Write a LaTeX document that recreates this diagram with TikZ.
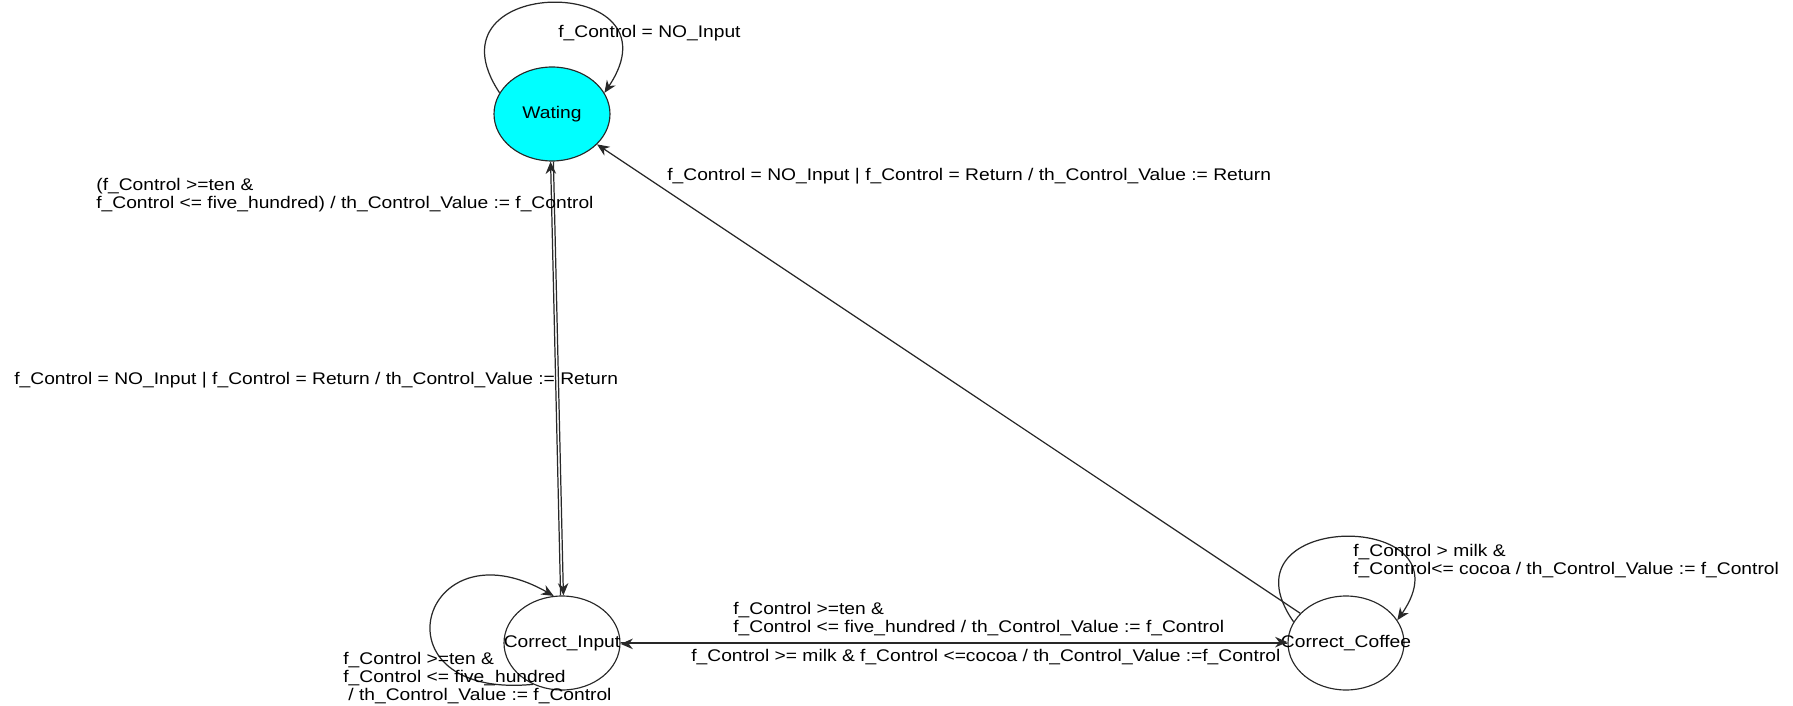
\documentclass[tikz,border=0pt]{standalone}
\usepackage{fontspec}
\setmainfont{Liberation Sans}[FakeStretch=1.14]
\usetikzlibrary{arrows.meta,shapes.geometric}
\definecolor{stfill}{RGB}{0,255,255}
\definecolor{lncol}{RGB}{40,40,40}
\begin{document}
\begin{tikzpicture}[x=0.02cm,y=-0.02cm,
  state/.style={ellipse,draw=lncol,line width=0.65pt,minimum width=2.32cm,minimum height=1.88cm,inner sep=0pt},
  lbl/.style={font=\fontsize{9.6}{10.4}\selectfont,inner sep=0pt,anchor=west,align=left},
  stxt/.style={font=\fontsize{9.6}{10.4}\selectfont,inner sep=0pt},
  edge/.style={draw=lncol,line width=0.7pt,-{Stealth[length=7pt,width=6pt]}}]
\useasboundingbox (0,0) rectangle (1793,706);
% states
\node[state,fill=stfill] (W) at (552,114) {};
\node[stxt] (Wt) at (W.center) {Wating};
\node[state] (CI) at (562,643) {};
\node[stxt] (CIt) at (CI.center) {Correct\_Input};
\node[state] (CC) at (1346,643) {};
\node[stxt] (CCt) at (CC.center) {Correct\_Coffee};
% transitions
\draw[edge] (W.158) .. controls (420,-27) and (685,-27) .. (W.22);
\draw[edge] ([xshift=0.8pt]W.south) -- ([xshift=0.8pt]CI.north);
\draw[edge] ([xshift=-0.8pt]CI.north) -- ([xshift=-0.8pt]W.south);
\draw[edge] ([yshift=0.5pt]CI.east) -- ([yshift=0.5pt]CC.west);
\draw[edge] ([yshift=-0.5pt]CC.west) -- ([yshift=-0.5pt]CI.east);
\draw[edge] (CC.147) -- (W.-34);
\draw[edge] (CI.235) .. controls (370,700) and (420,520) .. (CI.100);
\draw[edge] (CC.158) .. controls (1215,509) and (1475,509) .. (CC.24);
% labels
\node[lbl] (l1) at (558,33) {f\_Control = NO\_Input};
\node[lbl] (l2) at (96,195) {(f\_Control >=ten \&\\f\_Control <= five\_hundred) / th\_Control\_Value := f\_Control};
\node[lbl] (l3) at (14,380) {f\_Control = NO\_Input | f\_Control = Return / th\_Control\_Value := Return};
\node[lbl] (l4) at (667,176) {f\_Control = NO\_Input | f\_Control = Return / th\_Control\_Value := Return};
\node[lbl] (l5) at (733,619) {f\_Control >=ten \&\\f\_Control <= five\_hundred / th\_Control\_Value := f\_Control};
\node[lbl] (l6) at (691,657) {f\_Control >= milk \& f\_Control <=cocoa / th\_Control\_Value :=f\_Control};
\node[lbl] (l7) at (1353,561) {f\_Control > milk \&\\f\_Control<= cocoa / th\_Control\_Value := f\_Control};
\node[lbl] (l8) at (343,678) {f\_Control >=ten \&\\f\_Control <= five\_hundred\\\hspace*{0.3em}/ th\_Control\_Value := f\_Control};
\end{tikzpicture}
\end{document}
